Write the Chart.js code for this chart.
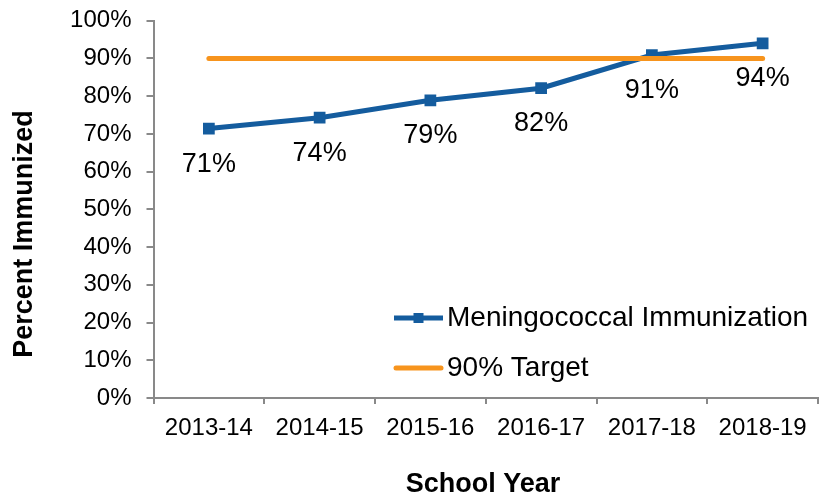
<!DOCTYPE html>
<html>
<head>
<meta charset="utf-8">
<script src="https://cdn.jsdelivr.net/npm/chart.js@4"></script>
<style>
  html, body { margin: 0; padding: 0; background: #ffffff; }
  #wrap { width: 827px; height: 497px; position: relative; }
</style>
</head>
<body>
<div id="wrap"><canvas id="c" width="827" height="497"></canvas></div>
<script>
const categories = ['2013-14', '2014-15', '2015-16', '2016-17', '2017-18', '2018-19'];
const immunizationValues = [71.4, 74.3, 78.9, 82.1, 90.9, 94.0];
const targetValues = [90, 90, 90, 90, 90, 90];
const seriesNames = ['Meningococcal Immunization', '90% Target'];
const yTitle = 'Percent Immunized';
const xTitle = 'School Year';

const BLUE = '#145C9E';
const ORANGE = '#F7941D';
const AXIS = '#898989';
const FONT = '"Liberation Sans", Arial, sans-serif';

const labelsPlugin = {
  id: 'customLabels',
  afterDatasetsDraw(chart) {
    const ctx = chart.ctx;
    const meta = chart.getDatasetMeta(1);
    ctx.save();
    ctx.font = '27px ' + FONT;
    ctx.fillStyle = '#000';
    ctx.textAlign = 'center';
    ctx.textBaseline = 'alphabetic';
    meta.data.forEach((pt, i) => {
      ctx.fillText(Math.round(immunizationValues[i]) + '%', pt.x, pt.y + 43);
    });
    ctx.restore();
  },
  afterDraw(chart) {
    const ctx = chart.ctx;
    const a = chart.chartArea;
    ctx.save();
    // legend
    const lx = a.left + 240.5;
    const rows = [a.top + 297.3, a.top + 347.3];
    ctx.lineCap = 'butt';
    ctx.strokeStyle = BLUE; ctx.lineWidth = 5;
    ctx.beginPath(); ctx.moveTo(lx, rows[0]); ctx.lineTo(lx + 49, rows[0]); ctx.stroke();
    ctx.fillStyle = BLUE;
    ctx.fillRect(lx + 24.5 - 5, rows[0] - 5, 10, 10);
    ctx.lineCap = 'round';
    ctx.strokeStyle = ORANGE; ctx.lineWidth = 5;
    ctx.beginPath(); ctx.moveTo(lx + 2, rows[1]); ctx.lineTo(lx + 47, rows[1]); ctx.stroke();
    ctx.fillStyle = '#000';
    ctx.font = '28px ' + FONT;
    ctx.textAlign = 'left';
    ctx.textBaseline = 'alphabetic';
    ctx.fillText(seriesNames[0], lx + 53, rows[0] + 8.4);
    ctx.fillText(seriesNames[1], lx + 53, rows[1] + 8.4);
    // axis titles
    ctx.font = 'bold 27px ' + FONT;
    ctx.textAlign = 'center';
    ctx.fillText(xTitle, 483, 491.7);
    ctx.translate(31.7, 234);
    ctx.rotate(-Math.PI / 2);
    ctx.fillText(yTitle, 0, 0);
    ctx.restore();
  }
};

new Chart(document.getElementById('c'), {
  type: 'line',
  data: {
    labels: categories,
    datasets: [
      {
        label: seriesNames[1],
        data: targetValues,
        borderColor: ORANGE,
        backgroundColor: ORANGE,
        borderWidth: 5,
        borderCapStyle: 'round',
        pointRadius: 0,
        tension: 0,
        order: 0
      },
      {
        label: seriesNames[0],
        data: immunizationValues,
        borderColor: BLUE,
        backgroundColor: BLUE,
        borderWidth: 5,
        pointStyle: 'rect',
        pointRadius: 8.3,
        pointBorderWidth: 0,
        pointBackgroundColor: BLUE,
        tension: 0,
        order: 1
      }
    ]
  },
  options: {
    responsive: false,
    animation: false,
    devicePixelRatio: 1,
    layout: { autoPadding: false, padding: { left: 0, right: 9, top: 20.7, bottom: 0 } },
    plugins: {
      legend: { display: false },
      tooltip: { enabled: false }
    },
    scales: {
      x: {
        offset: true,
        grid: { display: true, offset: true, drawOnChartArea: false, drawTicks: true, tickLength: 6, color: AXIS, lineWidth: 2 },
        border: { display: true, color: AXIS, width: 2 },
        ticks: { color: '#000', font: { family: FONT, size: 24 }, padding: 10, maxRotation: 0, autoSkip: false },
        afterFit(scale) { scale.height = 99; scale.paddingLeft = 0; scale.paddingRight = 0; }
      },
      y: {
        min: 0,
        max: 100,
        grid: { display: true, drawOnChartArea: false, drawTicks: true, tickLength: 7, color: AXIS, lineWidth: 2 },
        border: { display: true, color: AXIS, width: 2 },
        ticks: { stepSize: 10, color: '#000', font: { family: FONT, size: 24 }, padding: 15, callback: v => v + '%' },
        afterFit(scale) { scale.width = 153.5; scale.paddingTop = 0; scale.paddingBottom = 0; }
      }
    }
  },
  plugins: [labelsPlugin]
});
</script>
</body>
</html>
